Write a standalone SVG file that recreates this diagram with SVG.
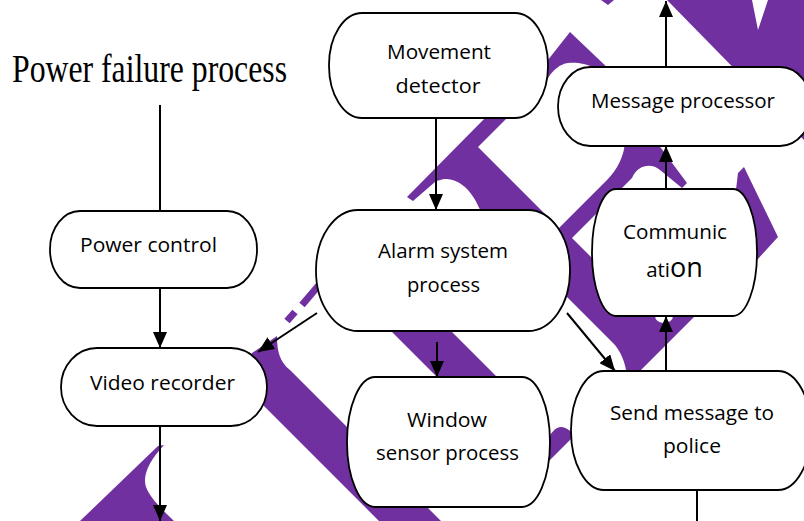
<svg xmlns="http://www.w3.org/2000/svg" width="804" height="521" viewBox="0 0 804 521">
<style>
.wm{fill:#7030A0;stroke:none}
.wml{stroke:#7030A0;stroke-width:7;fill:none}
.nd{fill:#fff;stroke:#000;stroke-width:1.8}
.c{stroke:#000;stroke-width:2;fill:none}
.t{font-family:"Open Sans","Liberation Sans",sans-serif;font-size:20.5px;fill:#000;text-anchor:middle}
.ttl{font-family:"Liberation Serif","Times New Roman",serif;font-size:32px;fill:#000}
</style>
<defs>
<marker id="ah" markerUnits="userSpaceOnUse" markerWidth="16" markerHeight="14" refX="16" refY="7" orient="auto">
<path d="M0,0 L16,7 L0,14 Z" fill="#000"/>
</marker>
</defs>
<rect width="804" height="521" fill="#fff"/>
<g id="watermark">
<path class="wm" d="M667,0 L752,0 L758,30 L768,0 L804,0 L804,140 Z"/>
<path class="wm" d="M601,0 L614,0 L608,5 Z"/>
<path class="wm" d="M540,70 L570,32 L612,72 L596,68 C585,63 575,62 568,63 C560,64 553,70 548,78 Z"/>
<path class="wm" d="M407,197 L490,113 L512,113 L478,147 L550,219 L483,219 C478,200 465,180 447,179 C441,179 437,181 435,182 L413,201 Z"/>
<path class="wm" d="M548,239 L607,180 C617,170 625,155 625,140 L655,140 L687,183 L682,188 L660,170 C652,163 638,164 632,178 L572,238 L615,281 L660,312 L699,312 L633,378 L627,378 C626,362 620,350 613,343 L555,285 Z"/>
<ellipse cx="664" cy="316" rx="9" ry="7" fill="#fff"/>
<path class="wm" d="M738,173 L744,167 L778,237 L757,260 L730,240 Z"/>
<path class="wm" d="M380,320 L440,320 L505,385 L445,385 Z"/>
<path class="wm" d="M530,480 L530,445 L546,445 C550,432 556,427 561,427 C567,427 572,432 576,438 L600,410 Z"/>
<path class="wm" d="M252,353 L277,336 C277,352 280,362 290,370 L441,521 L379,521 L240,382 Z"/>
<line class="wml" x1="325" y1="278" x2="302" y2="305"/>
<line class="wml" x1="295" y1="312" x2="287" y2="321"/>
<path class="wm" d="M158,446 L164,445 C150,460 142,475 146,487 C150,497 160,508 174,521 L80,521 Z"/>
</g>
<g id="title">
<text class="ttl" transform="translate(12,82) scale(1,1.27)" textLength="275" lengthAdjust="spacingAndGlyphs">Power failure process</text>
</g>
<g id="n-movement">
<rect class="nd" x="329" y="13" width="219" height="105" rx="33" ry="52"/>
<text class="t" x="439" y="59" textLength="104" lengthAdjust="spacingAndGlyphs">Movement</text>
<text class="t" x="438" y="93" textLength="85" lengthAdjust="spacingAndGlyphs">detector</text>
</g>
<g id="n-power">
<rect class="nd" x="50" y="211" width="207" height="77" rx="30" ry="38"/>
<text class="t" x="148.5" y="252" textLength="137" lengthAdjust="spacingAndGlyphs">Power control</text>
</g>
<g id="n-alarm">
<rect class="nd" x="316" y="210" width="254" height="121" rx="42" ry="60"/>
<text class="t" x="443" y="258" textLength="130" lengthAdjust="spacingAndGlyphs">Alarm system</text>
<text class="t" x="443.5" y="292" textLength="73" lengthAdjust="spacingAndGlyphs">process</text>
</g>
<g id="n-video">
<rect class="nd" x="61" y="348" width="206" height="78" rx="36" ry="39"/>
<text class="t" x="162.5" y="390" textLength="145" lengthAdjust="spacingAndGlyphs">Video recorder</text>
</g>
<g id="n-window">
<rect class="nd" x="347" y="377" width="203" height="130" rx="28" ry="65"/>
<text class="t" x="447" y="427" textLength="80" lengthAdjust="spacingAndGlyphs">Window</text>
<text class="t" x="447.5" y="460" textLength="143" lengthAdjust="spacingAndGlyphs">sensor process</text>
</g>
<g id="n-send">
<rect class="nd" x="571" y="371" width="240" height="119" rx="33" ry="59"/>
<text class="t" x="692" y="420" textLength="164" lengthAdjust="spacingAndGlyphs">Send message to</text>
<text class="t" x="692" y="453" textLength="58" lengthAdjust="spacingAndGlyphs">police</text>
</g>
<g id="n-comm">
<rect class="nd" x="592" y="189" width="165" height="127" rx="24" ry="63"/>
<text class="t" x="675" y="239" textLength="104" lengthAdjust="spacingAndGlyphs">Communic</text>
<text class="t" x="674.5" y="277">ati<tspan font-size="27">on</tspan></text>
</g>
<g id="n-message">
<rect class="nd" x="558" y="67" width="254" height="79" rx="32" ry="40"/>
<text class="t" x="683" y="108" textLength="184" lengthAdjust="spacingAndGlyphs">Message processor</text>
</g>
<g id="connectors">
<line class="c" x1="160" y1="105" x2="160" y2="211"/>
<line class="c" x1="160" y1="288" x2="160" y2="348" marker-end="url(#ah)"/>
<line class="c" x1="160" y1="426" x2="160" y2="521" marker-end="url(#ah)"/>
<line class="c" x1="436" y1="118" x2="436" y2="210" marker-end="url(#ah)"/>
<line class="c" x1="317" y1="313" x2="258" y2="352" marker-end="url(#ah)"/>
<line class="c" x1="437" y1="342" x2="437" y2="377" marker-end="url(#ah)"/>
<line class="c" x1="567" y1="313" x2="615" y2="371" marker-end="url(#ah)"/>
<line class="c" x1="666" y1="371" x2="666" y2="316" marker-end="url(#ah)"/>
<line class="c" x1="666" y1="189" x2="666" y2="146" marker-end="url(#ah)"/>
<line class="c" x1="666" y1="67" x2="666" y2="1" marker-end="url(#ah)"/>
<line class="c" x1="697" y1="490" x2="697" y2="521"/>
</g>
</svg>
